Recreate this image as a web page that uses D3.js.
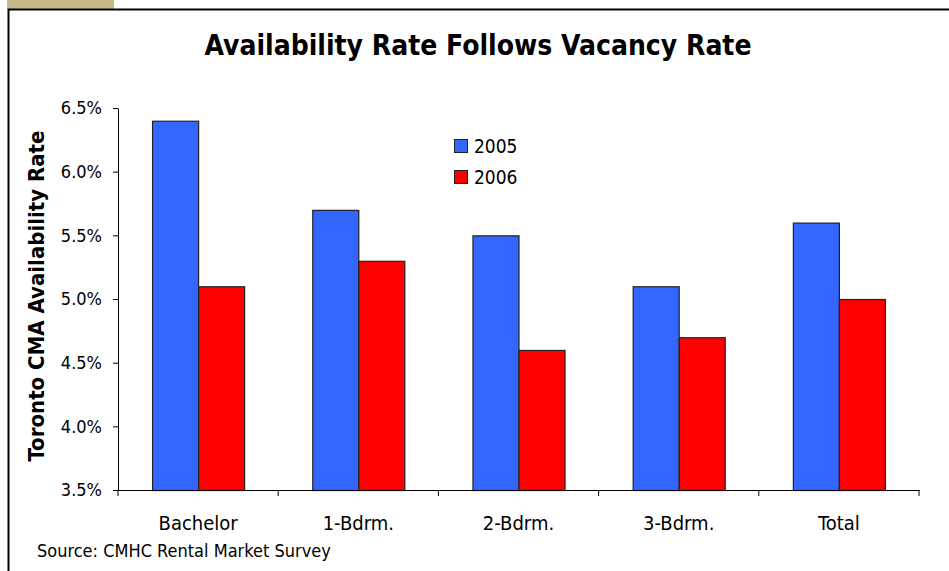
<!DOCTYPE html>
<html>
<head>
<meta charset="utf-8">
<script src="https://cdn.jsdelivr.net/npm/d3@7"></script>
<style>
  body { margin: 0; background: white; }
  text { font-family: "DejaVu Sans Condensed", "DejaVu Sans", sans-serif; font-stretch: condensed; fill: #000; }
</style>
</head>
<body>
<div id="chart"></div>
<script>
// chart data
var categories = ["Bachelor", "1-Bdrm.", "2-Bdrm.", "3-Bdrm.", "Total"]
var series = ["2005", "2006"]
var values2005 = [6.4, 5.7, 5.5, 5.1, 5.6]
var values2006 = [5.1, 5.3, 4.6, 4.7, 5.0]
var yTicks = [3.5, 4.0, 4.5, 5.0, 5.5, 6.0, 6.5]
var colors = ["#3366FF", "#FF0000"]

var fontFamily = '"DejaVu Sans Condensed", "DejaVu Sans", sans-serif'
var width = 949, height = 571
var svg = d3.select('#chart').append('svg')
  .attr('width', width)
  .attr('height', height)

// slide frame
svg.append('rect')
  .attr('x', 7).attr('y', 0)
  .attr('width', 107).attr('height', 10)
  .style('fill', '#C8B98A')

svg.append('path')
  .attr('d', 'M8.5,' + height + 'V9.5H' + width)
  .style('fill', 'none')
  .style('stroke', '#000')
  .style('stroke-width', 2)

var plotLeft = 118, plotRight = 919, plotTop = 108, plotBottom = 490

var xMap = d3.scaleBand()
  .domain(categories)
  .range([plotLeft, plotRight])
  .paddingInner(0)

var xSub = d3.scaleBand()
  .domain(series)
  .range([0, xMap.bandwidth()])
  .paddingOuter(0.74)
  .paddingInner(0)

var yMap = d3.scaleLinear()
  .domain([3.5, 6.5])
  .range([plotBottom, plotTop])

// title
svg.append('text')
  .attr('x', 478)
  .attr('y', 55)
  .style('text-anchor', 'middle')
  .style('font-size', '28px')
  .style('font-weight', 'bold')
  .text('Availability Rate Follows Vacancy Rate')

// bars
var rows = categories.map((c, i) => ({ cat: c, vals: [values2005[i], values2006[i]] }))

var gBars = svg.append('g')
var gCat = gBars.selectAll('g').data(rows).enter()
  .append('g')
  .attr('transform', d => 'translate(' + [xMap(d.cat), 0] + ')')

gCat.selectAll('rect')
  .data(d => d.vals.map((v, j) => ({ s: series[j], v: v, j: j })))
  .enter().append('rect')
  .attr('x', d => xSub(d.s) + 0.5)
  .attr('y', d => yMap(d.v) + 0.5)
  .attr('width', xSub.bandwidth())
  .attr('height', d => yMap(3.5) - yMap(d.v))
  .style('fill', d => colors[d.j])
  .style('stroke', '#222')
  .style('stroke-width', 1.2)

// axes
var yAxis = d3.axisLeft(yMap)
  .tickValues(yTicks)
  .tickFormat(d => d.toFixed(1) + '%')
  .tickSize(5)
  .tickSizeOuter(0)
  .tickPadding(11)

var gY = svg.append('g')
  .attr('transform', 'translate(' + [plotLeft, 0] + ')')
  .call(yAxis)

gY.selectAll('text')
  .style('font-family', fontFamily)
  .style('font-size', '18px')

var xAxis = d3.axisBottom(xMap)
  .tickSize(0)
  .tickPadding(26)

var gX = svg.append('g')
  .attr('transform', 'translate(' + [0, plotBottom] + ')')
  .call(xAxis)

gX.selectAll('text')
  .style('font-family', fontFamily)
  .style('font-size', '20px')

// category separator ticks
gX.selectAll('.sep')
  .data(categories.concat(['end']))
  .enter().append('line')
  .attr('x1', (d, i) => i < categories.length ? xMap(d) : plotRight)
  .attr('x2', (d, i) => i < categories.length ? xMap(d) : plotRight)
  .attr('y1', 0)
  .attr('y2', 6)
  .style('stroke', '#000')

svg.selectAll('.domain').style('stroke', '#000')
svg.selectAll('.tick line').style('stroke', '#000')

// y label
svg.append('text')
  .attr('transform', 'translate(' + [44, 296] + ') rotate(-90)')
  .style('text-anchor', 'middle')
  .style('font-size', '22px')
  .style('font-weight', 'bold')
  .text('Toronto CMA Availability Rate')

// legend
var gLeg = svg.append('g')
  .attr('transform', 'translate(' + [454, 139] + ')')

var legRow = gLeg.selectAll('g').data(series).enter()
  .append('g')
  .attr('transform', (d, i) => 'translate(' + [0, i * 31] + ')')

legRow.append('rect')
  .attr('x', 0.5).attr('y', 0.5)
  .attr('width', 13).attr('height', 13)
  .style('fill', (d, i) => colors[i])
  .style('stroke', '#222')
  .style('stroke-width', 1)

legRow.append('text')
  .attr('x', 20)
  .attr('y', 14)
  .style('font-size', '19px')
  .text(d => d)

// source
svg.append('text')
  .attr('x', 37)
  .attr('y', 557)
  .style('font-size', '18px')
  .text('Source: CMHC Rental Market Survey')
</script>
</body>
</html>
